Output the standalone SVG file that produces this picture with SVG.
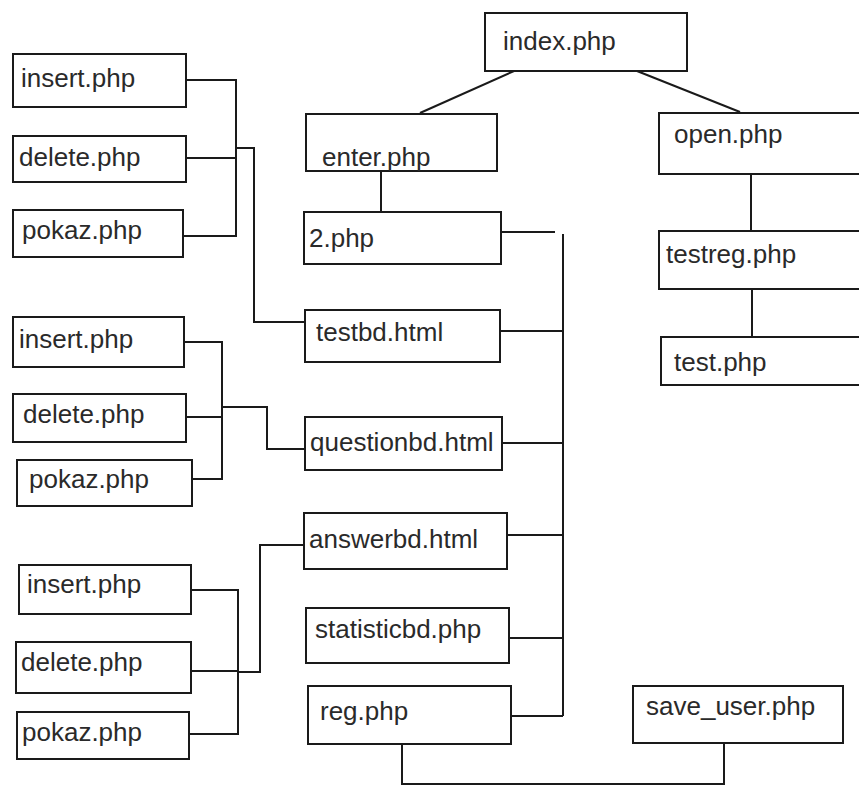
<svg xmlns="http://www.w3.org/2000/svg" width="859" height="785" viewBox="0 0 859 785">
<style>
.box rect{fill:#fff;stroke:#1a1a1a;stroke-width:2}
.box text{font-family:"Liberation Sans",Arial,sans-serif;font-size:26px;fill:#2a2a2a}
#connectors path{fill:none;stroke:#1a1a1a;stroke-width:2}
</style>
<rect width="859" height="785" fill="#fff"/>
<g id="connectors">
<path d="M514,71 L420,113"/>
<path d="M637,71 L740,112"/>
<path d="M381,171 V213"/>
<path d="M751,174 V231"/>
<path d="M752,289 V337"/>
<path d="M501,232 H555"/>
<path d="M563,234 V716"/>
<path d="M500,331 H563"/>
<path d="M502,443 H563"/>
<path d="M507,535 H563"/>
<path d="M509,638 H562"/>
<path d="M511,716 H563"/>
<path d="M402,744 V784 H724 V743"/>
<path d="M186,80 H236 V236 H183"/>
<path d="M186,158 H236"/>
<path d="M236,148 H254 V322 H305"/>
<path d="M184,342 H222 V479 H192"/>
<path d="M186,417 H222"/>
<path d="M222,407 H267 V449 H305"/>
<path d="M191,590 H238 V734 H189"/>
<path d="M191,671 H238"/>
<path d="M238,672 H260 V545 H304"/>
</g>
<g id="index" class="box"><rect x="485" y="13" width="202" height="58"/><text x="503" y="50">index.php</text></g>
<g id="enter" class="box"><rect x="306" y="114" width="191" height="57"/><text x="322" y="166">enter.php</text></g>
<g id="open" class="box"><rect x="659" y="113" width="211" height="61"/><text x="674" y="143">open.php</text></g>
<g id="two" class="box"><rect x="304" y="212" width="197" height="52"/><text x="309" y="247">2.php</text></g>
<g id="testreg" class="box"><rect x="659" y="231" width="211" height="58"/><text x="666" y="263">testreg.php</text></g>
<g id="test" class="box"><rect x="661" y="337" width="209" height="48"/><text x="674" y="371">test.php</text></g>
<g id="testbd" class="box"><rect x="305" y="310" width="195" height="52"/><text x="316" y="341">testbd.html</text></g>
<g id="questionbd" class="box"><rect x="305" y="417" width="197" height="53"/><text x="310" y="451">questionbd.html</text></g>
<g id="answerbd" class="box"><rect x="304" y="513" width="203" height="56"/><text x="309" y="548">answerbd.html</text></g>
<g id="statisticbd" class="box"><rect x="306" y="608" width="203" height="55"/><text x="315" y="638">statisticbd.php</text></g>
<g id="reg" class="box"><rect x="308" y="686" width="203" height="58"/><text x="320" y="720">reg.php</text></g>
<g id="save_user" class="box"><rect x="633" y="686" width="210" height="57"/><text x="646" y="715">save_user.php</text></g>
<g id="insert1" class="box"><rect x="13" y="54" width="173" height="53"/><text x="21" y="87">insert.php</text></g>
<g id="delete1" class="box"><rect x="13" y="136" width="173" height="46"/><text x="19" y="166">delete.php</text></g>
<g id="pokaz1" class="box"><rect x="13" y="210" width="170" height="47"/><text x="22" y="239">pokaz.php</text></g>
<g id="insert2" class="box"><rect x="13" y="317" width="171" height="50"/><text x="19" y="348">insert.php</text></g>
<g id="delete2" class="box"><rect x="13" y="394" width="173" height="48"/><text x="23" y="423">delete.php</text></g>
<g id="pokaz2" class="box"><rect x="17" y="460" width="175" height="46"/><text x="29" y="488">pokaz.php</text></g>
<g id="insert3" class="box"><rect x="19" y="565" width="172" height="49"/><text x="27" y="593">insert.php</text></g>
<g id="delete3" class="box"><rect x="16" y="642" width="175" height="51"/><text x="21" y="671">delete.php</text></g>
<g id="pokaz3" class="box"><rect x="17" y="712" width="172" height="47"/><text x="22" y="741">pokaz.php</text></g>
</svg>
